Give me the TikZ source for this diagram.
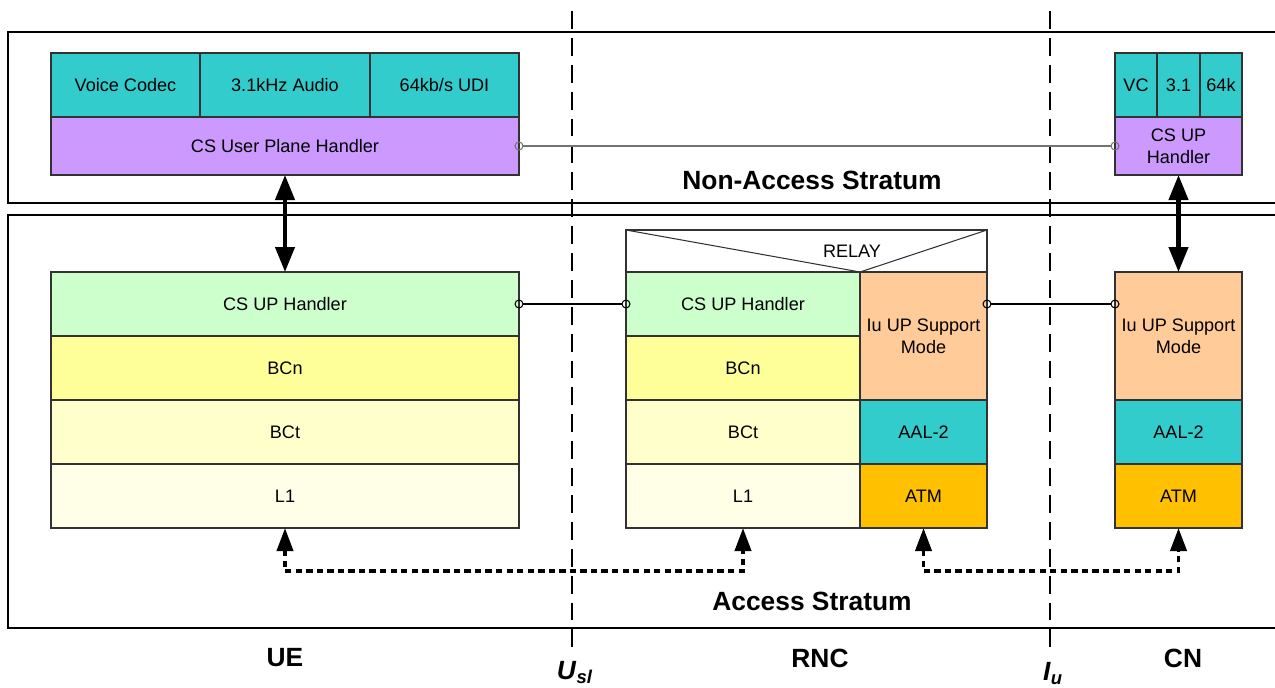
\documentclass[tikz,border=0pt]{standalone}
\usepackage{fontspec}
\setmainfont{Liberation Sans}
\usetikzlibrary{arrows.meta, positioning}
\definecolor{codecFill}{RGB}{51,204,204}
\definecolor{handlerFill}{RGB}{204,153,255}
\definecolor{csupFill}{RGB}{204,255,204}
\definecolor{bcnFill}{RGB}{255,255,153}
\definecolor{bctFill}{RGB}{255,255,204}
\definecolor{lonefill}{RGB}{255,255,232}
\definecolor{iuupFill}{RGB}{255,204,153}
\definecolor{atmFill}{RGB}{255,192,0}
\definecolor{layerLine}{RGB}{50,50,50}

\begin{document}
\begin{tikzpicture}[
  font=\fontsize{10.3}{12.5}\selectfont,
  layer/.style={draw=layerLine, line width=0.6pt, outer sep=0pt, inner sep=1pt, minimum height=1.28cm, align=center},
  frame/.style={draw, line width=1.2pt, anchor=north west, inner sep=0pt, outer sep=0pt},
  iface/.style={line width=1.4pt, dash pattern=on 10.2pt off 5.1pt},
  link/.style={line width=0.6pt, {Circle[open, length=0.18cm]}-{Circle[open, length=0.18cm]}, shorten <=-0.09cm, shorten >=-0.09cm},
  bigarr/.style={line width=2.4pt, {Triangle[length=0.5cm, width=0.38cm]}-{Triangle[length=0.5cm, width=0.38cm]}},
  peer/.style={line width=2.2pt, dash pattern=on 3.6pt off 2.4pt, {Triangle[length=0.46cm, width=0.32cm]}-{Triangle[length=0.46cm, width=0.32cm]}},
  stratum/.style={font=\fontsize{15}{18}\selectfont\bfseries},
  sitelbl/.style={font=\fontsize{15}{18}\selectfont\bfseries}
]
\useasboundingbox (0,0) rectangle (25.5,-13.74);

% stratum frames (open to the right)
\node[frame, minimum width=25.8cm, minimum height=3.42cm] (nas) at (0.16,-0.64) {};
\node[frame, minimum width=25.8cm, minimum height=8.26cm] (as) at (0.16,-4.3) {};
\node[stratum] (nastxt) at (16.24,-3.6) {Non-Access Stratum};
\node[stratum] (astxt) at (16.24,-12.02) {Access Stratum};

% reference points
\node[sitelbl] (usl) at (11.5,-13.45) {\textit{U}\textsubscript{\textit{sl}}};
\node[sitelbl] (iu) at (21.06,-13.47) {\textit{I}\textsubscript{\textit{u}}};
\coordinate (usltop) at (11.44,-0.22);
\coordinate (iutop) at (21.0,-0.22);
\draw[iface] (usltop) -- (usltop |- usl.north);
\draw[iface] (iutop) -- (iutop |- iu.north);

% UE, non-access stratum
\node[layer, fill=codecFill, minimum width=2.98cm, anchor=north west] (uecodec) at (1.02,-1.06) {Voice Codec};
\node[layer, fill=codecFill, minimum width=3.4cm, right=0pt of uecodec] (ueaudio) {3.1kHz Audio};
\node[layer, fill=codecFill, minimum width=2.98cm, right=0pt of ueaudio] (ueudi) {64kb/s UDI};
\node[layer, fill=handlerFill, minimum width=9.36cm, minimum height=1.16cm, anchor=north west] (uehandler) at (uecodec.south west) {CS User Plane Handler};

% CN, non-access stratum
\node[layer, fill=codecFill, minimum width=0.84cm, anchor=north west] (cnvc) at (22.3,-1.06) {VC};
\node[layer, fill=codecFill, minimum width=0.86cm, right=0pt of cnvc] (cnaudio) {3.1};
\node[layer, fill=codecFill, minimum width=0.84cm, right=0pt of cnaudio] (cnudi) {64k};
\node[layer, fill=handlerFill, minimum width=2.54cm, minimum height=1.16cm, anchor=north west] (cnhandler) at (cnvc.south west) {CS UP\\Handler};

% UE, access stratum
\node[layer, fill=csupFill, minimum width=9.36cm, anchor=north west] (uecsup) at (1.02,-5.44) {CS UP Handler};
\node[layer, fill=bcnFill, minimum width=9.36cm, below=0pt of uecsup] (uebcn) {BCn};
\node[layer, fill=bctFill, minimum width=9.36cm, below=0pt of uebcn] (uebct) {BCt};
\node[layer, fill=lonefill, minimum width=9.36cm, below=0pt of uebct] (uel1) {L1};

% RNC
\node[layer, fill=csupFill, minimum width=4.68cm, anchor=north west] (rnccsup) at (12.52,-5.44) {CS UP Handler};
\node[layer, fill=bcnFill, minimum width=4.68cm, below=0pt of rnccsup] (rncbcn) {BCn};
\node[layer, fill=bctFill, minimum width=4.68cm, below=0pt of rncbcn] (rncbct) {BCt};
\node[layer, fill=lonefill, minimum width=4.68cm, below=0pt of rncbct] (rncl1) {L1};
\node[layer, fill=iuupFill, minimum width=2.54cm, minimum height=2.56cm, anchor=north west] (rnciuup) at (rnccsup.north east) {Iu UP Support\\Mode};
\node[layer, fill=codecFill, minimum width=2.54cm, below=0pt of rnciuup] (rncaal) {AAL-2};
\node[layer, fill=atmFill, minimum width=2.54cm, below=0pt of rncaal] (rncatm) {ATM};
\node[layer, minimum width=7.22cm, minimum height=0.84cm, anchor=south west] (relay) at (rnccsup.north west) {};
\draw[layerLine, line width=0.6pt] (relay.north west) -- (rnccsup.north east) -- (relay.north east);
\node (relaytxt) at ([xshift=0.91cm]relay.center) {RELAY};

% CN, access stratum
\node[layer, fill=iuupFill, minimum width=2.54cm, minimum height=2.56cm, anchor=north west] (cniuup) at (22.3,-5.44) {Iu UP Support\\Mode};
\node[layer, fill=codecFill, minimum width=2.54cm, below=0pt of cniuup] (cnaal) {AAL-2};
\node[layer, fill=atmFill, minimum width=2.54cm, below=0pt of cnaal] (cnatm) {ATM};

% user plane links
\draw[link, draw=black!55] (uehandler.east) -- (cnhandler.west);
\draw[link] (uecsup.east) -- (rnccsup.west);
\draw[link] (rnciuup.east |- rnccsup.east) -- (cniuup.west |- rnccsup.east);

% stratum interworking
\draw[bigarr] (uehandler.south) -- (uecsup.north);
\draw[bigarr] (cnhandler.south) -- (cniuup.north);

% peer bearers
\draw[peer] (uel1.south) -- ++(0,-0.86) -| (rncl1.south);
\draw[peer] (rncatm.south) -- ++(0,-0.86) -| (cnatm.south);

% sites
\node[sitelbl] (ue) at (5.7,-13.16) {UE};
\node[sitelbl] (rnc) at (16.4,-13.16) {RNC};
\node[sitelbl] (cn) at (23.66,-13.16) {CN};

\end{tikzpicture}
\end{document}
